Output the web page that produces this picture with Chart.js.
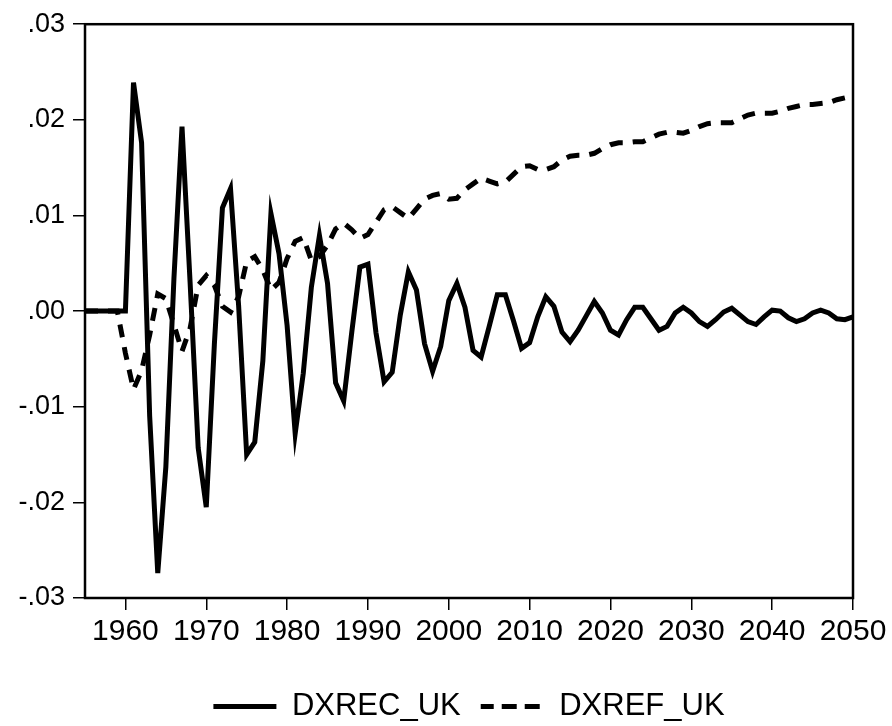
<!DOCTYPE html>
<html>
<head>
<meta charset="utf-8">
<script src="https://cdn.jsdelivr.net/npm/chart.js@4"></script>
<style>
  body { margin: 0; background: #fff; }
  canvas { display: block; }
</style>
</head>
<body>
<canvas id="myChart" width="892" height="726"></canvas>
<script>

var years = [1955, 1956, 1957, 1958, 1959, 1960, 1961, 1962, 1963, 1964,
  1965, 1966, 1967, 1968, 1969, 1970, 1971, 1972, 1973, 1974,
  1975, 1976, 1977, 1978, 1979, 1980, 1981, 1982, 1983, 1984,
  1985, 1986, 1987, 1988, 1989, 1990, 1991, 1992, 1993, 1994,
  1995, 1996, 1997, 1998, 1999, 2000, 2001, 2002, 2003, 2004,
  2005, 2006, 2007, 2008, 2009, 2010, 2011, 2012, 2013, 2014,
  2015, 2016, 2017, 2018, 2019, 2020, 2021, 2022, 2023, 2024,
  2025, 2026, 2027, 2028, 2029, 2030, 2031, 2032, 2033, 2034,
  2035, 2036, 2037, 2038, 2039, 2040, 2041, 2042, 2043, 2044,
  2045, 2046, 2047, 2048, 2049, 2050];

var dxrec = [0, 0, 0, 0, 0, 0, 0.0239, 0.0176, -0.0110, -0.0274,
  -0.0163, 0.0034, 0.0193, 0.0030, -0.0143, -0.0205, -0.0035, 0.0108, 0.0128, 0.0006,
  -0.0150, -0.0137, -0.0052, 0.0102, 0.0060, -0.0015, -0.0128, -0.0065, 0.0025, 0.0079,
  0.0029, -0.0075, -0.0094, -0.0022, 0.0046, 0.0049, -0.0023, -0.0074, -0.0064, -0.0004,
  0.0041, 0.0022, -0.0034, -0.0063, -0.0037, 0.0011, 0.0029, 0.0004, -0.0041, -0.0048,
  -0.0016, 0.0017, 0.0017, -0.0010, -0.0039, -0.0033, -0.0006, 0.0015, 0.0005, -0.0022,
  -0.0032, -0.0020, -0.0005, 0.0010, -0.0002, -0.0020, -0.0025, -0.0009, 0.0004, 0.0004,
  -0.0008, -0.0020, -0.0016, -0.0002, 0.0004, -0.0002, -0.0011, -0.0016, -0.0009, -0.0001,
  0.0003, -0.0004, -0.0011, -0.0014, -0.0006, 0.0001, 0.0000, -0.0007, -0.0011, -0.0008,
  -0.0002, 0.0001, -0.0002, -0.0008, -0.0009, -0.0006];

var dxref = [0, 0, 0, 0, 0, -0.0044, -0.0082, -0.0062, -0.0025, 0.0018,
  0.0013, -0.0014, -0.0042, -0.0018, 0.0027, 0.0037, 0.0027, 0.0005, -0.0001, 0.0015,
  0.0052, 0.0057, 0.0043, 0.0022, 0.0030, 0.0055, 0.0073, 0.0077, 0.0053, 0.0057,
  0.0069, 0.0086, 0.0092, 0.0085, 0.0076, 0.0080, 0.0093, 0.0106, 0.0109, 0.0103,
  0.0097, 0.0107, 0.0117, 0.0121, 0.0123, 0.0117, 0.0118, 0.0127, 0.0133, 0.0139,
  0.0136, 0.0133, 0.0135, 0.0143, 0.0151, 0.0152, 0.0148, 0.0148, 0.0151, 0.0158,
  0.0162, 0.0163, 0.0163, 0.0165, 0.0170, 0.0174, 0.0176, 0.0176, 0.0177, 0.0177,
  0.0181, 0.0185, 0.0187, 0.0187, 0.0186, 0.0189, 0.0193, 0.0196, 0.0197, 0.0197,
  0.0197, 0.0201, 0.0205, 0.0207, 0.0207, 0.0207, 0.0209, 0.0212, 0.0214, 0.0216,
  0.0216, 0.0217, 0.0218, 0.0221, 0.0223, 0.0225];

var xTicks = [1960, 1970, 1980, 1990, 2000, 2010, 2020, 2030, 2040, 2050];
var yTicks = [-0.03, -0.02, -0.01, 0, 0.01, 0.02, 0.03];

var font = "'Liberation Sans', Arial, Helvetica, sans-serif";

function points(values) {
  return years.map(function (yr, i) { return { x: yr, y: values[i] }; });
}

// box round the plot area, like the original frame
var frame = {
  id: 'frame',
  afterDraw: function (chart) {
    var a = chart.chartArea;
    var c = chart.ctx;
    c.save();
    c.strokeStyle = '#000';
    c.lineWidth = 2.5;
    c.strokeRect(a.left, a.top, a.right - a.left, a.bottom - a.top);
    c.restore();
  }
};

var ctx = document.getElementById("myChart");

new Chart(ctx, {
  type: 'line',
  data: {
    datasets: [{
      label: 'DXREC_UK',
      data: points(dxrec),
      borderColor: '#000',
      backgroundColor: '#000',
      borderWidth: 5,
      pointRadius: 0,
      tension: 0
    }, {
      label: 'DXREF_UK',
      data: points(dxref),
      borderColor: '#000',
      backgroundColor: '#000',
      borderWidth: 5,
      borderDash: [13, 10],
      pointRadius: 0,
      tension: 0
    }]
  },
  options: {
    responsive: false,
    animation: false,
    layout: { padding: { top: 24, right: 39, left: 0, bottom: -6 } },
    plugins: {
      tooltip: { enabled: false },
      legend: {
        position: 'bottom',
        fullSize: false,
        labels: {
          color: '#000',
          font: { family: font, size: 31 },
          boxWidth: 63,
          boxHeight: 0,
          padding: 20
        }
      }
    },
    scales: {
      x: {
        type: 'linear',
        min: 1955,
        max: 2050,
        afterBuildTicks: function (scale) {
          scale.ticks = xTicks.map(function (v) { return { value: v }; });
        },
        afterFit: function (scale) { scale.height = 73; },
        grid: { drawOnChartArea: false, tickLength: 12, color: '#000', lineWidth: 1.5 },
        border: { display: false },
        ticks: {
          color: '#000',
          padding: 4,
          maxRotation: 0,
          font: { family: font, size: 30 },
          callback: function (v) { return String(v); }
        }
      },
      y: {
        min: -0.03,
        max: 0.03,
        afterBuildTicks: function (scale) {
          scale.ticks = yTicks.map(function (v) { return { value: v }; });
        },
        afterFit: function (scale) { scale.width = 85; },
        grid: { drawOnChartArea: false, tickLength: 12, color: '#000', lineWidth: 1.5 },
        border: { display: false },
        ticks: {
          color: '#000',
          padding: 8,
          font: { family: font, size: 27 },
          callback: function (v) { return v.toFixed(2).replace('0.', '.'); }
        }
      }
    }
  },
  plugins: [frame]
});

</script>
</body>
</html>
